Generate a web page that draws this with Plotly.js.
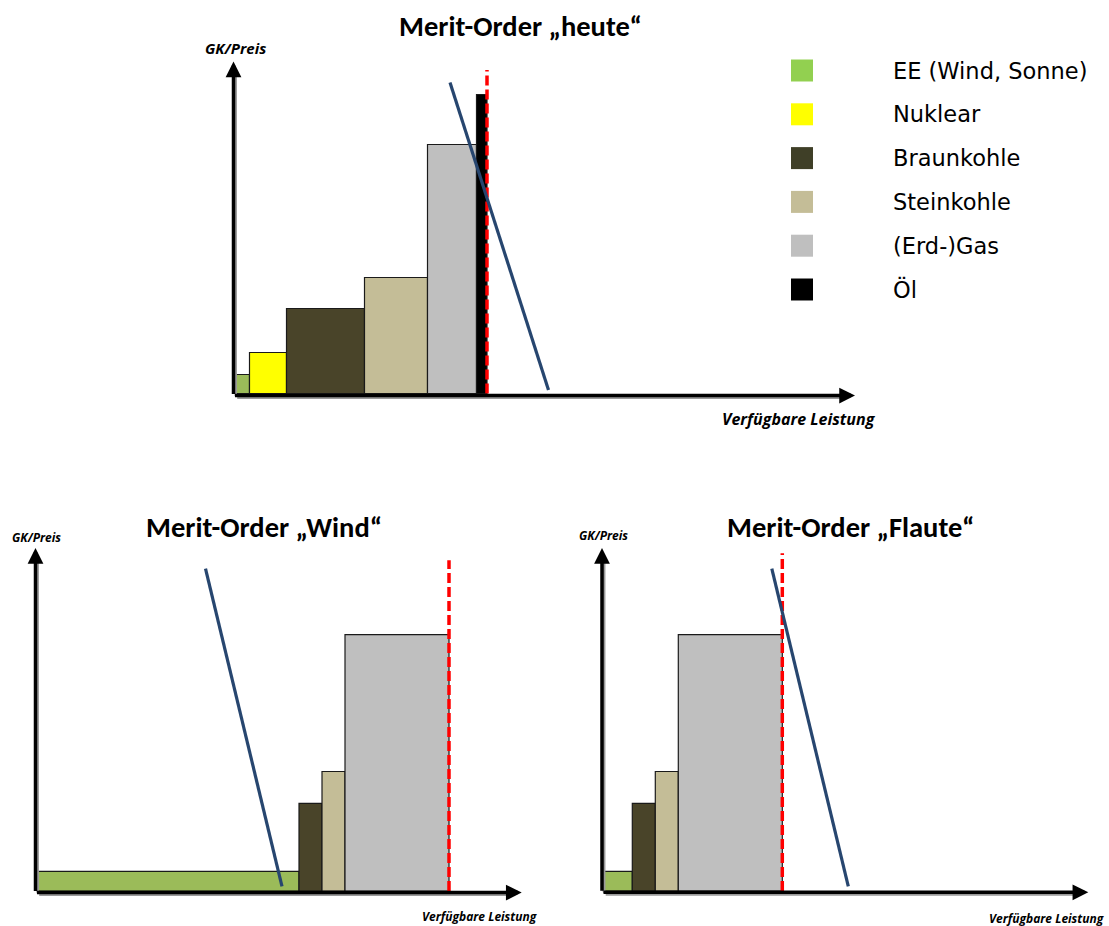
<!DOCTYPE html>
<html><head><meta charset="utf-8">
<script src="https://cdn.plot.ly/plotly-3.0.1.min.js"></script>
<style>html,body{margin:0;padding:0;background:#fff;} #chart{width:1109px;height:926px;}</style>
</head><body><div id="chart"></div>
<script>
// ---------------- Data ----------------
const technologien = ['EE (Wind, Sonne)', 'Nuklear', 'Braunkohle', 'Steinkohle', '(Erd-)Gas', 'Öl'];
const grenzkosten = [19, 41, 85, 116, 249, 299];          // GK/Preis je Technologie
const leistungHeute  = [14, 37, 78, 63, 49, 10.5];         // verfügbare Leistung je Technologie
const leistungWind   = [262, 0, 23, 23, 104, 0];
const leistungFlaute = [29, 0, 23, 23, 104, 0];
const nachfrageHeuteX = [214.5, 313];                      // Nachfragekurve "heute"
const nachfrageHeuteY = [311, 3.5];
const nachfrageWindX = [168.5, 245];                        // Nachfragekurve "Wind"
const nachfrageWindY = [313, 4.5];
const nachfrageFlauteX = [168.5, 245];                      // Nachfragekurve "Flaute"
const nachfrageFlauteY = [313, 4.5];
const grenzeOben = [323.5, 321, 328];                       // Höhe der Kapazitätsgrenze
const titel = ['Merit-Order „heute“', 'Merit-Order „Wind“', 'Merit-Order „Flaute“'];
const yLabel = 'GK/Preis';
const xLabel = 'Verfügbare Leistung';

// ---------------- Styles / layout ----------------
const W = 1109, H = 926;
const barColors = ['#9BBB59', '#FFFF00', '#494429', '#C4BD97', '#BFBFBF', '#000000'];
const legendColors = ['#92D050', '#FFFF00', '#3F3F27', '#C4BD97', '#BFBFBF', '#000000'];
const TITLEFONT = 'Carlito, Lato, sans-serif';
const LEGENDFONT = '"DejaVu Sans", sans-serif';
const LABELFONT = '"Open Sans", sans-serif';

const panels = [
  {leistung: leistungHeute, nx: nachfrageHeuteX, ny: nachfrageHeuteY,
   ox: 235.5, oy: 393.5, sy: 1.0, xmax: 625, ymax: 340, xtip: 619.5, ytip: 332, off: -2,
   title: [520, 26], ylab: [235, 48, 15], xlab: [799, 419, 16]},
  {leistung: leistungWind, nx: nachfrageWindX, ny: nachfrageWindY,
   ox: 37, oy: 891, sy: 1.03, xmax: 490, ymax: 340, xtip: 484.7, ytip: 333, off: -1.5,
   title: [264, 527], ylab: [36.5, 537, 12], xlab: [479, 916, 12]},
  {leistung: leistungFlaute, nx: nachfrageFlauteX, ny: nachfrageFlauteY,
   ox: 603.3, oy: 891, sy: 1.03, xmax: 490, ymax: 340, xtip: 485, ytip: 333, off: -1.3,
   title: [850, 527], ylab: [603, 535, 12], xlab: [1046.5, 918, 12]}
];

const px2x = p => p / W;
const px2y = p => 1 - p / H;

const traces = [];
const annotations = [];
const shapes = [];
const layout = {
  width: W, height: H, margin: {l: 0, r: 0, t: 0, b: 0},
  paper_bgcolor: '#fff', plot_bgcolor: 'rgba(0,0,0,0)',
  showlegend: false, barmode: 'overlay', bargap: 0,
  font: {family: TITLEFONT, color: '#000'}
};

panels.forEach((p, k) => {
  const xa = k === 0 ? 'x' : 'x' + (k + 1);
  const ya = k === 0 ? 'y' : 'y' + (k + 1);
  const xr0 = -6, yr0 = -6;
  const axBase = {showgrid: false, zeroline: false, showticklabels: false, ticks: '', showline: false, fixedrange: true};
  layout[k === 0 ? 'xaxis' : 'xaxis' + (k + 1)] = Object.assign({}, axBase, {
    anchor: ya, range: [xr0, p.xmax],
    domain: [px2x(p.ox + xr0), px2x(p.ox + p.xmax)]
  });
  layout[k === 0 ? 'yaxis' : 'yaxis' + (k + 1)] = Object.assign({}, axBase, {
    anchor: xa, range: [yr0, p.ymax],
    domain: [px2y(p.oy - yr0 * p.sy), px2y(p.oy - p.ymax * p.sy)]
  });

  // axis shadows (grey, slightly offset)
  const so = 2.2;
  annotations.push({xref: xa, yref: ya, axref: xa, ayref: ya, x: p.off + so, y: p.ytip - 10, ax: p.off + so, ay: p.off - so / p.sy,
    text: '', showarrow: true, arrowhead: 0, arrowwidth: 2.5, arrowcolor: '#9a9a9a'});
  annotations.push({xref: xa, yref: ya, axref: xa, ayref: ya, x: p.xtip - 10, y: p.off - so / p.sy, ax: p.off + so, ay: p.off - so / p.sy,
    text: '', showarrow: true, arrowhead: 0, arrowwidth: 2.5, arrowcolor: '#9a9a9a'});

  // bars
  let cum = 0;
  const xs = [], ws = [], ys = [], cols = [], names = [];
  p.leistung.forEach((c, i) => {
    if (c > 0) {
      xs.push(cum + c / 2); ws.push(c); ys.push(grenzkosten[i]);
      cols.push(barColors[i]); names.push(technologien[i]);
    }
    cum += c;
  });
  traces.push({type: 'bar', x: xs, y: ys, width: ws, xaxis: xa, yaxis: ya,
    hovertext: names, hoverinfo: 'text',
    marker: {color: cols, line: {color: '#1a1a1a', width: 1.2}}});

  // capacity limit (red dashed)
  traces.push({type: 'scatter', mode: 'lines', x: [cum, cum], y: [0, grenzeOben[k]],
    xaxis: xa, yaxis: ya, hoverinfo: 'skip',
    line: {color: '#FF0000', width: 3.5, dash: '10px,4px'}});

  // demand line
  traces.push({type: 'scatter', mode: 'lines', x: p.nx, y: p.ny, xaxis: xa, yaxis: ya,
    hoverinfo: 'skip', line: {color: '#27466F', width: 3.2}});

  // axis arrows
  annotations.push({xref: xa, yref: ya, axref: xa, ayref: ya, x: p.off, y: p.ytip, ax: p.off, ay: p.off,
    text: '', showarrow: true, arrowhead: 2, arrowsize: 0.9, arrowwidth: 3.5, arrowcolor: '#000'});
  annotations.push({xref: xa, yref: ya, axref: xa, ayref: ya, x: p.xtip, y: p.off, ax: p.off, ay: p.off,
    text: '', showarrow: true, arrowhead: 2, arrowsize: 0.9, arrowwidth: 3.5, arrowcolor: '#000'});

  // titles and axis labels
  annotations.push({xref: 'paper', yref: 'paper', x: px2x(p.title[0]), y: px2y(p.title[1]),
    xanchor: 'center', yanchor: 'middle', showarrow: false, text: '<b>' + titel[k] + '</b>',
    font: {family: TITLEFONT, size: 28.5, color: '#000'}});
  annotations.push({xref: 'paper', yref: 'paper', x: px2x(p.ylab[0]), y: px2y(p.ylab[1]),
    xanchor: 'center', yanchor: 'middle', showarrow: false, text: '<b><i>' + yLabel + '</i></b>',
    font: {family: LABELFONT, size: p.ylab[2], color: '#000'}});
  annotations.push({xref: 'paper', yref: 'paper', x: px2x(p.xlab[0]), y: px2y(p.xlab[1]),
    xanchor: 'center', yanchor: 'middle', showarrow: false, text: '<b><i>' + xLabel + '</i></b>',
    font: {family: LABELFONT, size: p.xlab[2], color: '#000'}});
});

// custom legend
technologien.forEach((t, i) => {
  const cy = 70.5 + i * 43.8;
  shapes.push({type: 'rect', xref: 'paper', yref: 'paper',
    x0: px2x(791), x1: px2x(813), y0: px2y(cy + 11), y1: px2y(cy - 11),
    fillcolor: legendColors[i], line: {width: 0}});
  annotations.push({xref: 'paper', yref: 'paper', x: px2x(891), y: px2y(cy),
    xanchor: 'left', yanchor: 'middle', showarrow: false, text: t,
    font: {family: LEGENDFONT, size: 22.5, color: '#000'}});
});

layout.annotations = annotations;
layout.shapes = shapes;

Plotly.newPlot('chart', traces, layout, {displayModeBar: false, staticPlot: true});
</script>
</body></html>
